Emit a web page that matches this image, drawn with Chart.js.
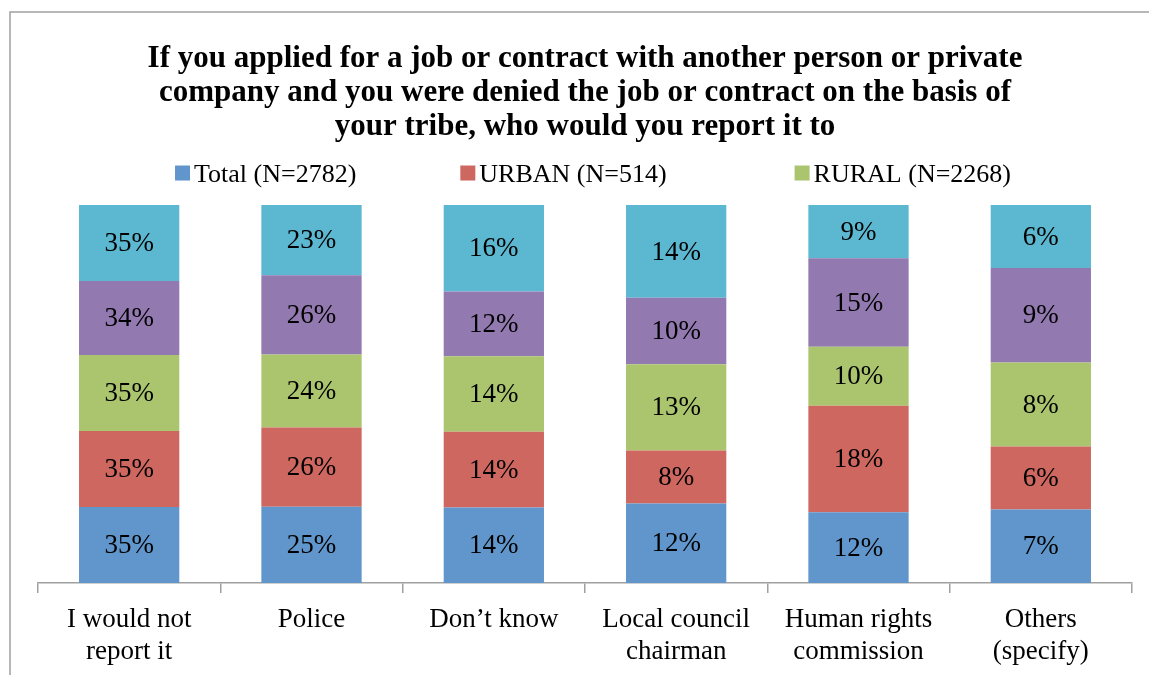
<!DOCTYPE html>
<html>
<head>
<meta charset="utf-8">
<script src="https://cdn.jsdelivr.net/npm/chart.js@4.4.1/dist/chart.umd.min.js"></script>
<style>
  html, body { margin: 0; padding: 0; background: #ffffff; }
  #wrap { position: relative; width: 1149px; height: 675px; }
</style>
</head>
<body>
<div id="wrap"><canvas id="c" width="1149" height="675"></canvas></div>
<script>
// ---- data ----
const titleLines = [
  "If you applied for a job or contract with another person or private",
  "company and you were denied the job or contract on the basis of",
  "your tribe, who would you report it to"
];
const categories = [
  ["I would not", "report it"],
  ["Police"],
  ["Don\u2019t know"],
  ["Local council", "chairman"],
  ["Human rights", "commission"],
  ["Others", "(specify)"]
];
const seriesNames = ["Total (N=2782)", "URBAN (N=514)", "RURAL (N=2268)", "", ""];
const totalVals  = [35, 25, 14, 12, 12, 7];
const urbanVals  = [35, 26, 14, 8, 18, 6];
const ruralVals  = [35, 24, 14, 13, 10, 8];
const series4Vals = [34, 26, 12, 10, 15, 9];
const series5Vals = [35, 23, 16, 14, 9, 6];
const seriesColors = ["#6096CB", "#CD675F", "#ABC46E", "#9279B0", "#5BB8D0"];
const legendCount = 3;

const allVals = [totalVals, urbanVals, ruralVals, series4Vals, series5Vals];
const colSums = categories.map((_, i) => allVals.reduce((s, arr) => s + arr[i], 0));

const REG = "'Liberation Serif', serif";
const TITLE = "'Liberation Serif', serif";

const datasets = allVals.map((vals, k) => ({
  label: seriesNames[k],
  data: vals.map((v, i) => v / colSums[i] * 100),
  rawVals: vals,
  backgroundColor: seriesColors[k],
  borderWidth: 0,
  categoryPercentage: 1.0,
  barPercentage: 0.55
}));

const framePlugin = {
  id: 'frame',
  beforeDraw(chart) {
    const ctx = chart.ctx;
    ctx.save();
    ctx.strokeStyle = '#A0A0A0';
    ctx.lineWidth = 1.5;
    ctx.beginPath();
    ctx.moveTo(10, chart.height + 2);
    ctx.lineTo(10, 12);
    ctx.lineTo(chart.width + 2, 12);
    ctx.stroke();
    ctx.restore();
  }
};

const valueLabelPlugin = {
  id: 'valueLabels',
  afterDatasetsDraw(chart) {
    const ctx = chart.ctx;
    ctx.save();
    ctx.font = "27px " + REG;
    ctx.fillStyle = '#000';
    ctx.textAlign = 'center';
    ctx.textBaseline = 'middle';
    chart.data.datasets.forEach((ds, k) => {
      const meta = chart.getDatasetMeta(k);
      meta.data.forEach((el, i) => {
        const p = el.getProps(['x', 'y', 'base'], true);
        ctx.fillText(ds.rawVals[i] + '%', p.x, (p.y + p.base) / 2 + 1);
      });
    });
    ctx.restore();
  }
};

const legendPlugin = {
  id: 'customLegend',
  afterDraw(chart) {
    const ctx = chart.ctx;
    const area = chart.chartArea;
    ctx.save();
    ctx.font = "26px " + REG;
    const box = 15, gapText = 4, gaps = [104, 128];
    const items = chart.data.datasets.slice(0, legendCount);
    const widths = items.map(ds => box + gapText + ctx.measureText(ds.label).width);
    const total = widths.reduce((a, b) => a + b, 0) + gaps.reduce((a, b) => a + b, 0);
    let x = (area.left + area.right) / 2 + 8 - total / 2;
    const cy = area.top - 32;
    items.forEach((ds, k) => {
      ctx.fillStyle = ds.backgroundColor;
      ctx.fillRect(x, cy - box / 2, box, box);
      ctx.fillStyle = '#000';
      ctx.textAlign = 'left';
      ctx.textBaseline = 'middle';
      ctx.fillText(ds.label, x + box + gapText, cy + 2);
      x += widths[k] + (gaps[k] || 0);
    });
    ctx.restore();
  }
};

new Chart(document.getElementById('c'), {
  type: 'bar',
  data: { labels: categories, datasets },
  options: {
    responsive: false,
    animation: false,
    devicePixelRatio: 1,
    layout: { padding: { left: 38, right: 17, top: 0, bottom: 0 } },
    plugins: {
      legend: { display: false },
      tooltip: { enabled: false },
      title: {
        display: true,
        text: titleLines,
        color: '#000',
        font: { family: TITLE, size: 31, weight: 'bold', lineHeight: 1.097 },
        padding: { top: 42, bottom: 61 }
      }
    },
    scales: {
      x: {
        stacked: true,
        offset: true,
        afterFit(scale) { scale.height = 92; },
        grid: { display: true, offset: true, drawOnChartArea: false, drawTicks: true, tickLength: 10, color: '#A0A0A0', lineWidth: 1.5 },
        border: { display: true, color: '#A0A0A0', width: 1.5 },
        ticks: { color: '#000', font: { family: REG, size: 27, lineHeight: 1.19 }, padding: 11, maxRotation: 0, autoSkip: false }
      },
      y: {
        stacked: true,
        display: false,
        min: 0,
        max: 100
      }
    }
  },
  plugins: [framePlugin, valueLabelPlugin, legendPlugin]
});
</script>
</body>
</html>
